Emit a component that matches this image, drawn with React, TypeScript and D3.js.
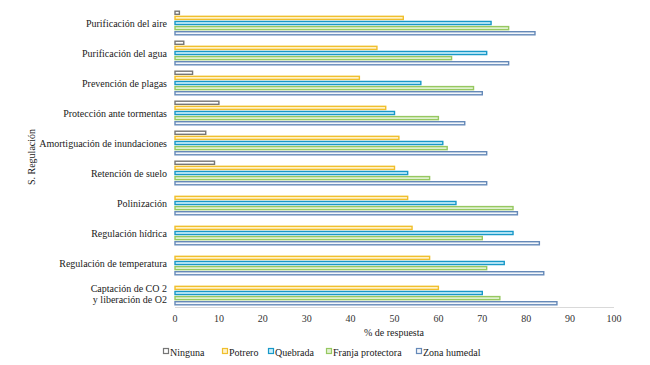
import * as d3 from 'd3'

const categories = [
  'Purificación del aire',
  'Purificación del agua',
  'Prevención de plagas',
  'Protección ante tormentas',
  'Amortiguación de inundaciones',
  'Retención de suelo',
  'Polinización',
  'Regulación hídrica',
  'Regulación de temperatura',
  'Captación de CO 2\ny liberación de O2',
]

const seriesNames = ['Ninguna', 'Potrero', 'Quebrada', 'Franja protectora', 'Zona humedal']

const ninguna = [1, 2, 4, 10, 7, 9, 0, 0, 0, 0]
const potrero = [52, 46, 42, 48, 51, 50, 53, 54, 58, 60]
const quebrada = [72, 71, 56, 50, 61, 53, 64, 77, 75, 70]
const franja = [76, 63, 68, 60, 62, 58, 77, 70, 71, 74]
const zona = [82, 76, 70, 66, 71, 71, 78, 83, 84, 87]

const xTicks = [0, 10, 20, 30, 40, 50, 60, 70, 80, 90, 100]

const strokes = ['#767676', '#f0bf2c', '#1898c8', '#96c860', '#6589b8']
const fills = ['#ffffff', '#fff2c8', '#c8eefb', '#e2f1d2', '#f4f7fb']

export default function App() {
  const width = 650
  const height = 365
  const values = [ninguna, potrero, quebrada, franja, zona]

  const x = d3.scaleLinear().domain([0, 100]).range([175, 614])
  const y = d3.scaleBand().domain(categories).range([8, 308]).paddingInner(0.18).paddingOuter(0.09)
  const inner = d3.scaleBand().domain(seriesNames).range([0, y.bandwidth()]).paddingInner(0.2)

  // legend positions
  const legendX = [163, 222, 268, 326, 416]

  return (
    <div style={{ position: 'fixed', left: 0, top: 0, fontFamily: 'Liberation Serif' }}>
      <svg width={width} height={height} style={{ display: 'block', background: '#fff', fontFamily: 'Liberation Serif' }}>
        {/* bars */}
        {categories.map((c, ci) => (
          <g key={c} transform={`translate(0,${y(c)})`}>
            {seriesNames.map((s, si) => {
              const v = values[si][ci]
              if (!v) return null
              return (
                <rect
                  key={s}
                  x={x(0)}
                  y={inner(s)! + 0.5}
                  width={x(v) - x(0)}
                  height={inner.bandwidth() - 1}
                  fill={fills[si]}
                  stroke={strokes[si]}
                  strokeWidth={1.4}
                />
              )
            })}
          </g>
        ))}

        {/* x axis */}
        <line x1={x(0)} x2={x(100)} y1={307.5} y2={307.5} stroke="#d9d9d9" />
        {xTicks.map((t) => (
          <text key={t} x={x(t)} y={322} textAnchor="middle" fontSize={10} fill="#333">
            {t}
          </text>
        ))}
        <text x={394} y={336} textAnchor="middle" fontSize={10} fill="#1a1a1a">
          % de respuesta
        </text>

        {/* category labels */}
        {categories.map((c) => {
          const lines = c.split('\n')
          const cy = y(c)! + y.bandwidth() / 2
          return (
            <text
              key={c}
              x={167}
              y={cy - ((lines.length - 1) * 11) / 2}
              textAnchor="end"
              dominantBaseline="central"
              fontSize={10}
              fill="#1a1a1a"
            >
              {lines.map((l, i) => (
                <tspan key={i} x={167} dy={i === 0 ? 0 : 11}>
                  {l}
                </tspan>
              ))}
            </text>
          )
        })}

        {/* y axis title */}
        <text
          transform={`translate(31,157) rotate(-90)`}
          textAnchor="middle"
          dominantBaseline="central"
          fontSize={10}
          fill="#1a1a1a"
        >
          S. Regulación
        </text>

        {/* legend */}
        {seriesNames.map((s, si) => (
          <g key={s} transform={`translate(${legendX[si]},352)`}>
            <rect x={0.5} y={-3.5} width={5} height={5} fill={fills[si]} stroke={strokes[si]} strokeWidth={1.2} />
            <text x={7} y={0} dominantBaseline="central" fontSize={10} fill="#1a1a1a">
              {s}
            </text>
          </g>
        ))}
      </svg>
    </div>
  )
}
